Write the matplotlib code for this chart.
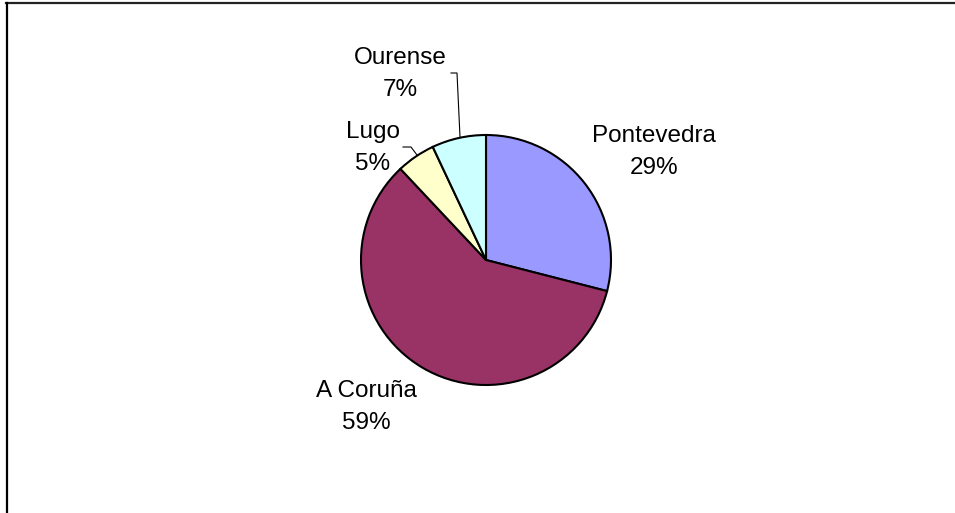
import matplotlib.pyplot as plt
from matplotlib.lines import Line2D

plt.rcParams['font.family'] = ['Liberation Sans', 'DejaVu Sans']

provinces = ['Pontevedra', 'A Coruña', 'Lugo', 'Ourense']
shares = [29, 59, 5, 7]
colors = ['#9999FF', '#993366', '#FFFFCC', '#CCFFFF']

W, H = 955, 513
fig = plt.figure(figsize=(W / 100, H / 100), dpi=100)
ax = fig.add_axes([0, 0, 1, 1])

ax.pie(shares, colors=colors, startangle=90, counterclock=False,
       center=(486, H - 260), radius=125,
       wedgeprops=dict(edgecolor='black', linewidth=1.5), frame=True)
ax.set_xlim(0, W)
ax.set_ylim(0, H)
ax.set_aspect('equal')
ax.axis('off')

# label positions (image pixels, y from top)
label_pos = {
    'Pontevedra': (654, 152),
    'A Coruña': (366, 407),
    'Lugo': (373, 148),
    'Ourense': (400, 74),
}
for name, val in zip(provinces, shares):
    x, y = label_pos[name]
    ax.text(x, H - y, f'{name}\n{val}%', ha='center', va='center',
            fontsize=17.5, linespacing=1.62)

# leader lines
ax.plot([451, 457, 460], [H - 73, H - 73, H - 137], color='black', linewidth=0.8)
ax.plot([403, 411, 417], [H - 147, H - 147, H - 155], color='black', linewidth=0.8)

# chart area border (only top and left visible)
fig.add_artist(Line2D([6 / W, 1], [1 - 2.5 / H, 1 - 2.5 / H], color='#222222', linewidth=1.6))
fig.add_artist(Line2D([6.5 / W, 6.5 / W], [0, 1 - 2.5 / H], color='black', linewidth=1.6))

fig.savefig('out.png', dpi=100, facecolor='white')
